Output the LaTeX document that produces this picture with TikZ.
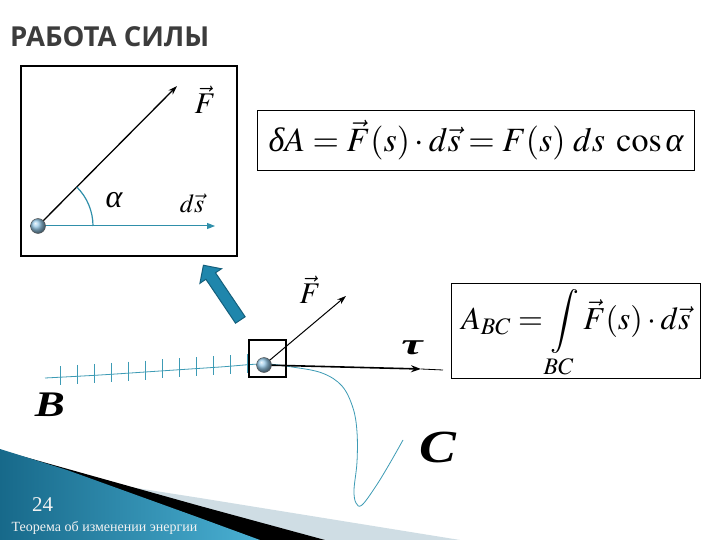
\documentclass[tikz,border=0pt]{standalone}
\usepackage{mathptmx}
\usepackage[no-math]{fontspec}
\setmainfont{Liberation Serif}
\newfontfamily\titlefont{Open Sans}
\usetikzlibrary{arrows.meta,shapes.arrows}
\definecolor{curvecol}{HTML}{3D9BB5}
\definecolor{dscol}{HTML}{2F8FAA}
\definecolor{bigfill}{HTML}{1F86AC}
\definecolor{bigdraw}{HTML}{145F7C}
\definecolor{tealdark}{HTML}{17698A}
\definecolor{teallight}{HTML}{4AB0D3}
\definecolor{bandgray}{HTML}{CFDDE4}
\definecolor{titlecol}{HTML}{3C3C3C}
\definecolor{ballcol}{HTML}{96C8E6}
\newcommand{\ialpha}{\mbox{\itshape α}}
\newcommand{\idelta}{\mbox{\itshape δ}}
\tikzset{
  ball/.style={circle, minimum size=15pt, inner sep=0pt, draw=gray!60!black, ball color=ballcol},
  framebox/.style={draw, line width=1pt, anchor=north west, inner sep=0pt},
  vecarrow/.style={line width=1.3pt, -{Stealth[length=9pt,width=6pt]}},
  tick/.style={curvecol, line width=0.7pt},
  biglabel/.style={inner sep=0pt}
}
\begin{document}
\begin{tikzpicture}[x=1pt,y=-1pt]
\useasboundingbox (0,0) rectangle (720,540);
\fill[white] (0,0) rectangle (720,540);

% bottom-left decoration
\fill[bandgray] (0,450) -- (117,485) -- (200,498) -- (460,540) -- (0,540) -- cycle;
\fill[black] (0,450) -- (200,506) -- (325,540) -- (0,540) -- cycle;
\shade[left color=tealdark, right color=teallight] (0,449) -- (67,470) -- (200,518) -- (260,540) -- (0,540) -- cycle;
\node[text=white!90!gray, font=\fontsize{21}{24}\selectfont, inner sep=0pt] (pg) at (42.5,505) {24};
\node[text=white!90!gray, font=\fontsize{14}{16}\selectfont, inner sep=0pt] (foot) at (104.5,528) {Теорема об изменении энергии};

% title
\node[anchor=west, text=titlecol, font=\titlefont\bfseries\fontsize{27.5}{31}\selectfont, inner sep=0pt] (title) at (10,37) {РАБОТА СИЛЫ};

% left box
\node[framebox, line width=1.6pt, minimum width=216pt, minimum height=190pt] (box1) at (20,65) {};
\coordinate (b1c) at (38,226);
\coordinate (F1tip) at (177,86);
\coordinate (ds1tip) at (215,226);
\draw[vecarrow] (b1c) -- (F1tip);
\draw[dscol, line width=1pt, -{Triangle[length=8pt,width=6pt]}] (b1c) -- (ds1tip);
\draw[dscol, line width=1.2pt] (93,226) arc[start angle=0, end angle=45, radius=55pt];
\node[ball] (b1) at (b1c) {};
\node[biglabel, font=\fontsize{30}{34}\selectfont] (F1lab) at (205,100) {$\vec F$};
\node[biglabel, font=\fontsize{32}{36}\selectfont] (alab) at (114,200) {\itshape α};
\node[biglabel, font=\fontsize{26}{30}\selectfont] (dslab) at (192,203) {$d\vec s$};

% formula 1
\node[framebox, minimum width=437pt, minimum height=60pt] (fbox1) at (257,110) {};
\node[font=\fontsize{34}{40}\selectfont, inner sep=0pt] (f1) at (fbox1.center) {$\idelta A=\vec F(s)\cdot d\vec s=F(s)\;ds\;\cos\ialpha$};

% formula 2
\node[framebox, minimum width=249pt, minimum height=95pt] (fbox2) at (451,283) {};
\node[font=\fontsize{32}{38}\selectfont, inner sep=0pt] (f2) at ([yshift=-3pt]fbox2.center) {$\displaystyle A_{BC}=\int\limits_{BC}\vec F(s)\cdot d\vec s$};

% big blue arrow
\node[single arrow, fill=bigfill, draw=bigdraw, line width=1pt, minimum height=66pt, minimum width=26pt, single arrow head extend=5pt, inner sep=3.5pt, rotate=124] (bigarrow) at (223.5,295) {};

% trajectory
\draw[curvecol, line width=0.8pt] plot[smooth, tension=0.6] coordinates {(45,378) (100,375) (160,371) (220,367) (263,364) (292,367) (322,373) (342,386) (353,408) (357,432) (357,462) (354,490) (356,503) (362,505) (376,486) (390,463) (403,440)};
\foreach \x in {60,77,94,111,128,145,162,179,196,213,230,247}{
  \pgfmathsetmacro{\yy}{378-(\x-45)*14/218}
  \draw[tick] (\x,\yy-11) -- (\x,\yy+8);
}

% square, ball 2, vectors
\node[draw, line width=1.8pt, minimum size=37pt, inner sep=0pt] (sq) at (267.5,358.5) {};
\coordinate (b2c) at (264,365);
\coordinate (F2tip) at (346,296);
\coordinate (tauM) at (421,369);
\coordinate (tauEnd) at (443,370);
\draw[line width=1pt, -{Stealth[length=9pt,width=6pt]}] (b2c) -- (F2tip);
\draw[line width=1.6pt, -{Stealth[length=10pt,width=7pt]}] (b2c) -- (tauM);
\draw[line width=0.8pt] (tauM) -- (tauEnd);
\node[ball] (b2) at (b2c) {};
\node[biglabel, font=\fontsize{30}{34}\selectfont] (F2lab) at (310,290) {$\vec F$};
\node[biglabel, xscale=1.6, font=\bfseries\itshape\fontsize{30}{34}\selectfont] (taulab) at (412,348) {τ};
\node[biglabel, xscale=1.25, font=\bfseries\itshape\fontsize{36}{40}\selectfont] (Blab) at (50,405) {B};
\node[biglabel, xscale=1.2, font=\bfseries\itshape\fontsize{46}{50}\selectfont] (Clab) at (438,447) {C};
\end{tikzpicture}
\end{document}
